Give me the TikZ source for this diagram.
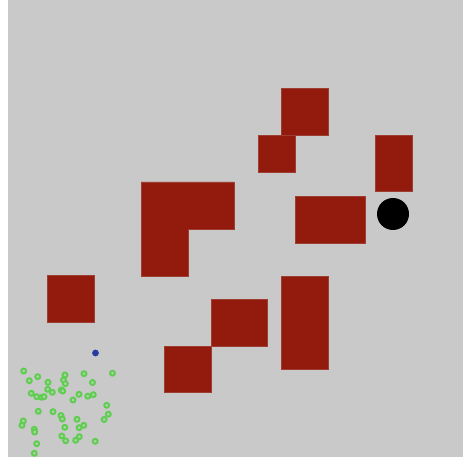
\documentclass[tikz,border=0pt]{standalone}
\definecolor{bg}{RGB}{201,201,201}
\definecolor{obst}{RGB}{147,27,14}
\definecolor{pt}{RGB}{95,205,80}
\definecolor{ptin}{RGB}{170,210,165}
\definecolor{goal}{RGB}{40,60,160}
\tikzset{
  block/.style={fill=obst, draw=obst!80!bg, line width=0.5pt},
  sample/.style={draw=pt, fill=ptin, line width=1.9pt},
}
\begin{document}
\begin{tikzpicture}[x=1pt,y=-1pt]
\useasboundingbox (0,0) rectangle (463,457);
\fill[white] (0,0) rectangle (463,457);
\fill[bg] (8,0) rectangle (463,457);
% obstacles
\path[block] (281,88) rectangle (328,135);
\path[block] (258,135) rectangle (295,172);
\path[block] (375,135) rectangle (412,191);
\path[block] (295,196) rectangle (365,243);
\path[block] (141,182) -- (234,182) -- (234,229) -- (188,229) -- (188,276) -- (141,276) -- cycle;
\path[block] (47,275) rectangle (94,322);
\path[block] (211,299) rectangle (267,346);
\path[block] (164,346) rectangle (211,392);
\path[block] (281,276) rectangle (328,369);
% black disc
\fill[black] (393,214) circle (16);
% blue point
\fill[goal] (95.5,353) circle (3.4);
% green samples
\foreach \p in {(23.7,371),(37.7,376.7),(29.3,380.7),(65,375),(63.5,380),(65.3,383.7),
  (84,373.7),(112.5,373.2),(48,382.3),(92.5,382.5),(47.7,389.3),(52.3,392.3),
  (61.3,390),(62.7,391),(31.3,393.3),(36.7,396.7),(41.7,397.3),(44,396.7),
  (79,394.3),(73,400),(87.8,396.2),(93.3,394.7),(106.7,405.3),(38.3,411.3),
  (53,411.7),(61,415.5),(62.3,419),(108.3,414.2),(104.1,419.5),(77,419.3),
  (23.3,421),(22,425.3),(34.3,429.3),(34.7,432),(64.8,427.3),(79.1,427.7),
  (83.8,425.3),(61.8,436),(65.7,440.8),(79.3,436.7),(75.7,440.3),(95.2,441.3),
  (36.7,443.7),(34.3,453.3)}
  \path[sample] \p circle (2.5);
\end{tikzpicture}
\end{document}
